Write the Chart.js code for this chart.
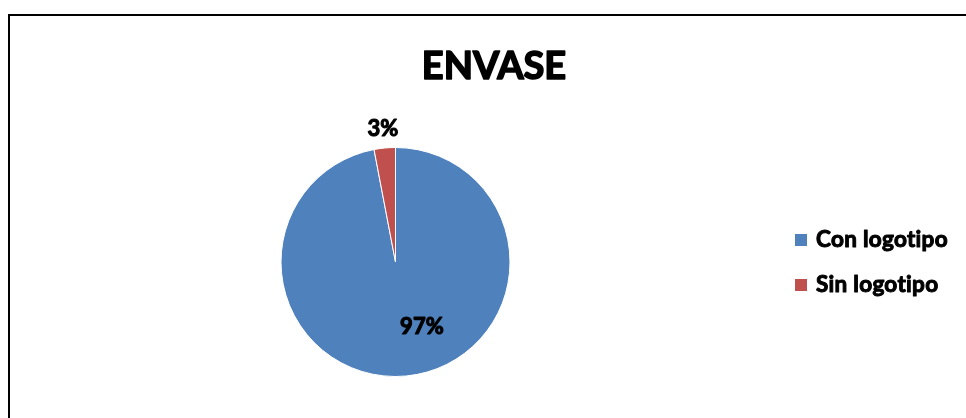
<!DOCTYPE html>
<html>
<head>
<meta charset="utf-8">
<script src="https://cdn.jsdelivr.net/npm/chart.js@4"></script>
<style>
  html, body { margin: 0; padding: 0; background: #fff; }
  #wrap { position: relative; width: 966px; height: 418px; overflow: hidden; }
  #frame {
    position: absolute; left: 8px; top: 14px; width: 1000px; height: 500px;
    border-left: 2.5px solid #000; border-top: 2px solid #000;
  }
  #envase { position: absolute; left: 0; top: 0; }
</style>
</head>
<body>
<div id="wrap">
  <div id="frame"></div>
  <canvas id="envase" width="966" height="418"></canvas>
</div>
<script>
// Data
const chartTitle = "ENVASE";
const categories = ["Con logotipo", "Sin logotipo"];
const shares = [97, 3];
const pctLabels = ["97%", "3%"];
const sliceColors = ["#4F81BD", "#C0504D"];

const FONT = "Lato, 'Open Sans', sans-serif";

// heavy text: fill + thin stroke to get the Calibri bold weight
function heavyText(ctx, text, x, y, stroke) {
  ctx.fillText(text, x, y);
  ctx.lineWidth = stroke;
  ctx.lineJoin = "round";
  ctx.strokeStyle = ctx.fillStyle;
  ctx.strokeText(text, x, y);
}

// ---------- TITLE (centred on the whole frame, not the pie) ----------
const frameTitle = {
  id: "frameTitle",
  afterDraw(chart) {
    const ctx = chart.ctx;
    ctx.save();
    ctx.font = "bold 38px " + FONT;
    ctx.fillStyle = "#000";
    ctx.textAlign = "center";
    ctx.textBaseline = "middle";
    heavyText(ctx, chartTitle, 494, 67, 1.6);
    ctx.restore();
  }
};

// ---------- LABELS ON SLICES ----------
const sliceLabels = {
  id: "sliceLabels",
  afterDatasetsDraw(chart) {
    const ctx = chart.ctx;
    const arcs = chart.getDatasetMeta(0).data;
    // radial factor and angle shift (degrees) per slice, Excel "best fit" look
    const radial = [0.61, 1.165];
    const shift = [-16.8, 0];
    ctx.save();
    ctx.font = "bold 22px " + FONT;
    ctx.fillStyle = "#000";
    ctx.textAlign = "center";
    ctx.textBaseline = "middle";
    arcs.forEach((arc, i) => {
      const p = arc.getProps(["x", "y", "startAngle", "endAngle", "outerRadius"], true);
      const mid = (p.startAngle + p.endAngle) / 2 + shift[i] * Math.PI / 180;
      const r = p.outerRadius * radial[i];
      heavyText(ctx, pctLabels[i], p.x + Math.cos(mid) * r, p.y + Math.sin(mid) * r, 1.1);
    });
    ctx.restore();
  }
};

// ---------- LEGEND ----------
const sideLegend = {
  id: "sideLegend",
  afterDraw(chart) {
    const ctx = chart.ctx;
    const area = chart.chartArea;
    const cy = (area.top + area.bottom) / 2;
    const gap = 45;
    const x = 795;
    ctx.save();
    ctx.font = "bold 22.5px " + FONT;
    ctx.letterSpacing = "0.3px";
    ctx.textBaseline = "middle";
    ctx.textAlign = "left";
    categories.forEach((name, i) => {
      const y = cy + (i - (categories.length - 1) / 2) * gap;
      ctx.fillStyle = sliceColors[i];
      ctx.fillRect(x, y - 5.5, 12, 12);
      ctx.fillStyle = "#000";
      heavyText(ctx, name, x + 21, y, 1.0);
    });
    ctx.restore();
  }
};

new Chart(document.getElementById("envase"), {
  type: "pie",
  data: {
    labels: categories,
    datasets: [{
      data: shares,
      backgroundColor: sliceColors,
      borderColor: "#fff",
      borderWidth: 1
    }]
  },
  options: {
    responsive: false,
    animation: false,
    layout: { padding: { left: 0, right: 175, top: 147, bottom: 41 } },
    plugins: {
      legend: { display: false },
      tooltip: { enabled: false },
      title: { display: false }
    }
  },
  plugins: [sliceLabels, sideLegend, frameTitle]
});
</script>
</body>
</html>
